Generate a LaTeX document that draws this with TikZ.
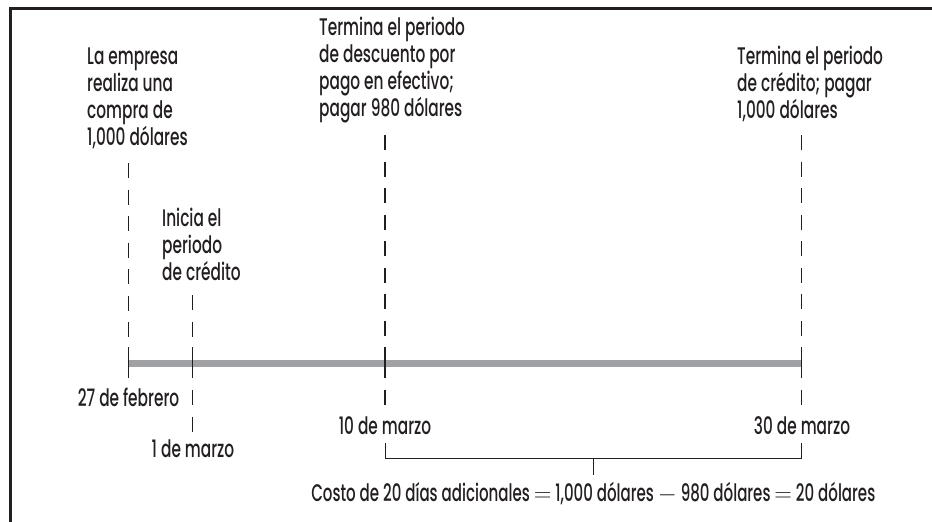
\documentclass[tikz,border=0pt]{standalone}
\usepackage{fontspec}
\setmainfont{Poppins}[FakeStretch=0.64, UprightFont=* Medium]
\definecolor{ink}{HTML}{231F20}
\definecolor{barg}{HTML}{A0A1A4}
\newcommand{\blk}[1]{\begin{tabular}[t]{@{}l@{}}#1\end{tabular}}
\begin{document}
\begin{tikzpicture}[x=1pt,y=-1pt,
  txt/.style={anchor=base west, inner sep=0pt, text=ink, font=\fontsize{24}{27}\selectfont},
  datelbl/.style={anchor=base, inner sep=0pt, text=ink, font=\fontsize{24}{27}\selectfont},
  dashln/.style={draw=ink, line width=1.1pt, dash pattern=on 15pt off 11.5pt},
  solidln/.style={draw=ink, line width=1.1pt},
  barln/.style={draw=barg, line width=7.5pt},
  framel/.style={draw=ink, line width=3pt},
  brk/.style={draw=ink, line width=1pt}]
\useasboundingbox (0,0) rectangle (932,522);
% frame
\draw[framel] (10,530) -- (10,8) -- (940,8);
% text blocks
\node[txt] (a) at (87,64) {\blk{La empresa\\realiza una\\compra de\\1,000 dólares}};
\node[txt] (b) at (319,35) {\blk{Termina el periodo\\de descuento por\\pago en efectivo;\\pagar 980 dólares}};
\node[txt] (c) at (737,64) {\blk{Termina el periodo\\de crédito; pagar\\1,000 dólares}};
\node[txt] (d) at (162,226) {\blk{Inicia el\\periodo\\de crédito}};
% dates
\node[datelbl] (d1) at (128.5,406) {27 de febrero};
\node[datelbl] (d2) at (193,457) {1 de marzo};
\node[datelbl] (d3) at (385,434) {10 de marzo};
\node[datelbl] (d4) at (802,434) {30 de marzo};
\node[datelbl] (cost) at (593.3,501) {\scalebox{0.98}[1]{Costo de 20 días adicionales $=$ 1,000 dólares $-$ 980 dólares $=$ 20 dólares}};
% coordinates
\coordinate (l1t) at (128.5,163); \coordinate (l1m) at (128.5,338);
\coordinate (l2t) at (192.7,295); \coordinate (l2m) at (192.7,338);
\coordinate (l3t) at (385,135);   \coordinate (l3m) at (385,338);
\coordinate (l4t) at (801.5,135); \coordinate (l4m) at (801.5,338);
\coordinate (l1a) at (128.5,347); \coordinate (l1b) at (128.5,378);
\coordinate (l2a) at (192.7,347); \coordinate (l2b) at (192.7,378);
\coordinate (l3a) at (385,347);   \coordinate (l3b) at (385,378);
\coordinate (l4a) at (801.5,347); \coordinate (l4b) at (801.5,378);
\coordinate (l2c) at (192.7,390); \coordinate (l2d) at (192.7,432);
\coordinate (l3c) at (385,390);   \coordinate (l3d) at (385,405.5);
\coordinate (l4c) at (801.5,390); \coordinate (l4d) at (801.5,405.5);
\coordinate (bs) at (128.5,363.3); \coordinate (be) at (801.5,363.3);
\coordinate (k1) at (385,443); \coordinate (k2) at (385,458);
\coordinate (k3) at (801.5,458); \coordinate (k4) at (801.5,443);
\coordinate (km) at (593.3,458); \coordinate (kb) at (593.3,475);
% bar
\draw[barln] (bs) -- (be);
% dashed guide lines
\draw[dashln] (l1t) -- (l1m);
\draw[dashln] (l2t) -- (l2m);
\draw[dashln] (l3t) -- (l3m);
\draw[dashln] (l4t) -- (l4m);
\draw[solidln] (l1a) -- (l1b);
\draw[solidln] (l2a) -- (l2b);
\draw[solidln] (l3a) -- (l3b);
\draw[solidln] (l4a) -- (l4b);
\draw[dashln] (l2c) -- (l2d);
\draw[dashln] (l3c) -- (l3d);
\draw[dashln] (l4c) -- (l4d);
% bracket
\draw[brk] (k1) -- (k2) -- (k3) -- (k4);
\draw[brk] (km) -- (kb);
\end{tikzpicture}
\end{document}
